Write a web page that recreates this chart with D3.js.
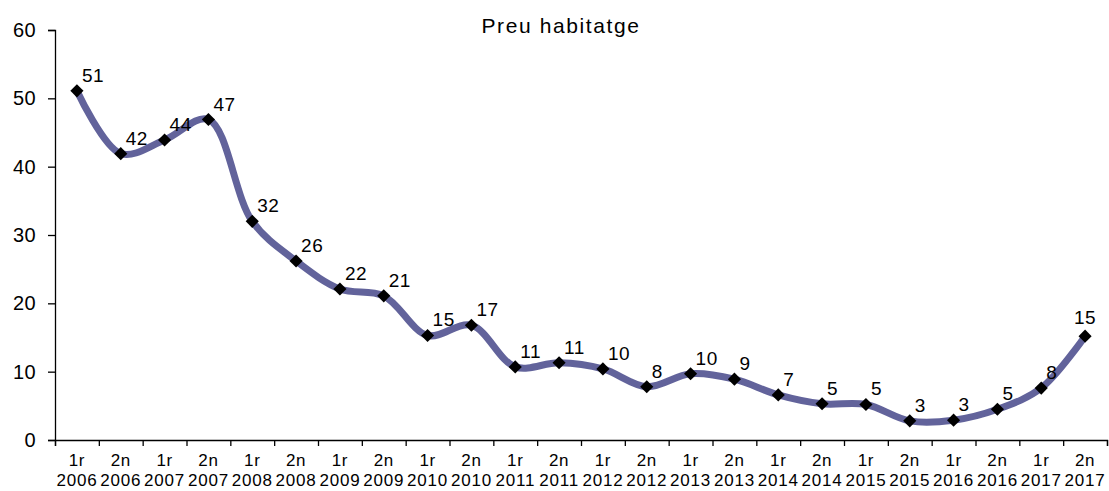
<!DOCTYPE html>
<html>
<head>
<meta charset="utf-8">
<script src="https://cdn.jsdelivr.net/npm/d3@7"></script>
<style>
  body { margin: 0; background: #fff; }
  text { font-family: "Liberation Sans", Arial, sans-serif; fill: #000; }
</style>
</head>
<body>
<div id="chart"></div>
<script>
var svgWidth = 1109;
var svgHeight = 491;

var margin = { top: 30, right: 2, bottom: 51, left: 55 };

var width = svgWidth - margin.left - margin.right;
var height = svgHeight - margin.top - margin.bottom;

// data
var semesters = ["1r", "2n", "1r", "2n", "1r", "2n", "1r", "2n", "1r", "2n", "1r", "2n",
                 "1r", "2n", "1r", "2n", "1r", "2n", "1r", "2n", "1r", "2n", "1r", "2n"];
var years = ["2006", "2006", "2007", "2007", "2008", "2008", "2009", "2009", "2010", "2010", "2011", "2011",
             "2012", "2012", "2013", "2013", "2014", "2014", "2015", "2015", "2016", "2016", "2017", "2017"];
var values = [51.1, 41.9, 43.9, 46.9, 32.0, 26.2, 22.1, 21.1, 15.3, 16.8, 10.7, 11.3,
              10.4, 7.8, 9.7, 8.9, 6.6, 5.3, 5.2, 2.8, 2.9, 4.5, 7.6, 15.2];
var yTicks = [0, 10, 20, 30, 40, 50, 60];
var title = "Preu habitatge";

var data = values.map(function (v, i) {
    return { i: i, value: v, sem: semesters[i], year: years[i] };
});

var svg = d3.select("#chart")
    .append("svg")
    .attr("width", svgWidth)
    .attr("height", svgHeight);

var chartGroup = svg.append("g")
    .attr("transform", `translate(${margin.left}, ${margin.top})`);

// scales
var xBand = d3.scaleBand()
    .domain(data.map(d => d.i))
    .range([0, width]);

var xEdges = d3.scaleLinear()
    .domain([0, values.length])
    .range([0, width]);

var yLinearScale = d3.scaleLinear()
    .domain([0, 60])
    .range([height, 0]);

// y axis
var leftAxis = d3.axisLeft(yLinearScale)
    .tickValues(yTicks)
    .tickSize(7)
    .tickPadding(12);

var yAxisG = chartGroup.append("g").call(leftAxis);
yAxisG.select(".domain").attr("stroke", "#000").attr("stroke-width", 1.3);
yAxisG.selectAll(".tick line").attr("stroke", "#000").attr("stroke-width", 1.3);
yAxisG.selectAll("text")
    .style("font-size", "20px")
    .style("letter-spacing", "0.4px")
    .attr("fill", "#000");

// x axis ticks at category edges
var edgeAxis = d3.axisBottom(xEdges)
    .tickValues(d3.range(values.length + 1))
    .tickSize(6)
    .tickFormat("");

var xAxisG = chartGroup.append("g")
    .attr("transform", `translate(0, ${height})`)
    .call(edgeAxis);
xAxisG.select(".domain").attr("stroke", "#000").attr("stroke-width", 1.3);
xAxisG.selectAll(".tick line").attr("stroke", "#000").attr("stroke-width", 1.3);

// category labels, two lines
var labelAxis = d3.axisBottom(xBand)
    .tickSize(0)
    .tickFormat("");

var labG = chartGroup.append("g")
    .attr("transform", `translate(0, ${height})`)
    .call(labelAxis);
labG.select(".domain").remove();

labG.selectAll(".tick").append("text")
    .attr("y", 26)
    .attr("text-anchor", "middle")
    .style("font-size", "17px")
    .style("letter-spacing", "0.6px")
    .text(i => semesters[i]);

labG.selectAll(".tick").append("text")
    .attr("y", 46)
    .attr("text-anchor", "middle")
    .style("font-size", "17px")
    .style("letter-spacing", "0.8px")
    .text(i => years[i]);

// smoothed line
var line = d3.line()
    .x(d => xBand(d.i) + xBand.bandwidth() / 2)
    .y(d => yLinearScale(d.value))
    .curve(d3.curveCatmullRom.alpha(0.5));

chartGroup.append("path")
    .datum(data)
    .attr("fill", "none")
    .attr("stroke", "#62639b")
    .attr("stroke-width", 7)
    .attr("stroke-linecap", "round")
    .attr("d", line);

// diamond markers
chartGroup.selectAll(".marker")
    .data(data)
    .enter()
    .append("path")
    .attr("class", "marker")
    .attr("d", d3.symbol().type(d3.symbolDiamond2).size(110))
    .attr("transform", d => `translate(${xBand(d.i) + xBand.bandwidth() / 2}, ${yLinearScale(d.value)})`)
    .attr("fill", "#000");

// value labels (the last one sits centred above its point)
var last = values.length - 1;
chartGroup.selectAll(".valText")
    .data(data)
    .enter()
    .append("text")
    .attr("class", "valText")
    .attr("x", d => xBand(d.i) + xBand.bandwidth() / 2 + (d.i === last ? 0 : 5))
    .attr("y", d => yLinearScale(d.value) - (d.i === last ? 12 : 9))
    .attr("text-anchor", d => d.i === last ? "middle" : "start")
    .style("font-size", "19px")
    .style("letter-spacing", "0.5px")
    .text(d => Math.round(d.value));

// title
svg.append("text")
    .attr("x", 561)
    .attr("y", 33)
    .attr("text-anchor", "middle")
    .style("font-size", "21px")
    .style("letter-spacing", "1.6px")
    .text(title);
</script>
</body>
</html>
